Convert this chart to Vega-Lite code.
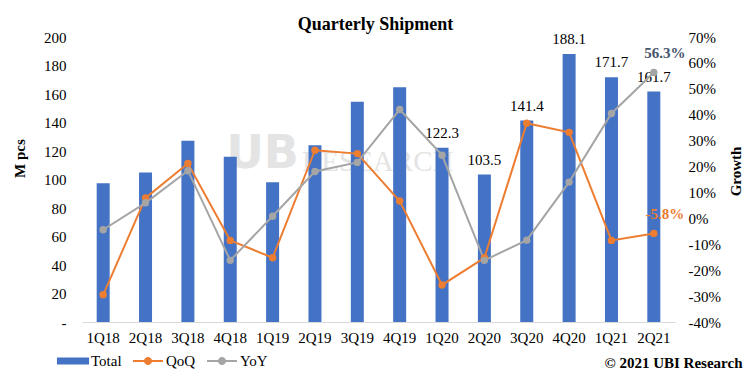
{
  "$schema": "https://vega.github.io/schema/vega-lite/v6.json",
  "width": 593,
  "height": 285,
  "autosize": "none",
  "padding": {"left": 82, "top": 37, "right": 77, "bottom": 58},
  "background": "white",
  "config": {
    "view": {"stroke": null},
    "font": "Liberation Serif",
    "text": {"font": "Liberation Serif"},
    "axis": {"labelFont": "Liberation Serif", "titleFont": "Liberation Serif", "labelColor": "black", "titleColor": "black", "grid": false, "ticks": false}
  },
  "title": {"text": "Quarterly Shipment", "font": "Liberation Serif", "fontSize": 18, "fontWeight": "bold", "color": "black", "anchor": "middle", "frame": "group", "offset": -4, "dx": -3},
  "data": {"values": [
    {"q": "1Q18", "series": "Total", "value": 97.3},
    {"q": "2Q18", "series": "Total", "value": 105.0},
    {"q": "3Q18", "series": "Total", "value": 127.2},
    {"q": "4Q18", "series": "Total", "value": 116.0},
    {"q": "1Q19", "series": "Total", "value": 98.0},
    {"q": "2Q19", "series": "Total", "value": 124.0},
    {"q": "3Q19", "series": "Total", "value": 154.6},
    {"q": "4Q19", "series": "Total", "value": 164.7},
    {"q": "1Q20", "series": "Total", "value": 122.3, "lbl": "122.3"},
    {"q": "2Q20", "series": "Total", "value": 103.5, "lbl": "103.5"},
    {"q": "3Q20", "series": "Total", "value": 141.4, "lbl": "141.4"},
    {"q": "4Q20", "series": "Total", "value": 188.1, "lbl": "188.1"},
    {"q": "1Q21", "series": "Total", "value": 171.7, "lbl": "171.7"},
    {"q": "2Q21", "series": "Total", "value": 161.7, "lbl": "161.7"},
    {"q": "1Q18", "series": "QoQ", "value": -29.5},
    {"q": "2Q18", "series": "QoQ", "value": 7.9},
    {"q": "3Q18", "series": "QoQ", "value": 21.2},
    {"q": "4Q18", "series": "QoQ", "value": -8.5},
    {"q": "1Q19", "series": "QoQ", "value": -15.2},
    {"q": "2Q19", "series": "QoQ", "value": 26.3},
    {"q": "3Q19", "series": "QoQ", "value": 25.0},
    {"q": "4Q19", "series": "QoQ", "value": 6.7},
    {"q": "1Q20", "series": "QoQ", "value": -25.7},
    {"q": "2Q20", "series": "QoQ", "value": -15.2},
    {"q": "3Q20", "series": "QoQ", "value": 36.7},
    {"q": "4Q20", "series": "QoQ", "value": 33.2},
    {"q": "1Q21", "series": "QoQ", "value": -8.5},
    {"q": "2Q21", "series": "QoQ", "value": -5.8, "note": "-5.8%"},
    {"q": "1Q18", "series": "YoY", "value": -4.4},
    {"q": "2Q18", "series": "YoY", "value": 6.0},
    {"q": "3Q18", "series": "YoY", "value": 18.4},
    {"q": "4Q18", "series": "YoY", "value": -16.2},
    {"q": "1Q19", "series": "YoY", "value": 0.8},
    {"q": "2Q19", "series": "YoY", "value": 18.1},
    {"q": "3Q19", "series": "YoY", "value": 21.6},
    {"q": "4Q19", "series": "YoY", "value": 42.0},
    {"q": "1Q20", "series": "YoY", "value": 24.4},
    {"q": "2Q20", "series": "YoY", "value": -16.2},
    {"q": "3Q20", "series": "YoY", "value": -8.4},
    {"q": "4Q20", "series": "YoY", "value": 14.0},
    {"q": "1Q21", "series": "YoY", "value": 40.5},
    {"q": "2Q21", "series": "YoY", "value": 56.3, "note": "56.3%"}
  ]},
  "encoding": {
    "x": {
      "field": "q", "type": "nominal", "sort": null,
      "scale": {"domain": ["1Q18", "2Q18", "3Q18", "4Q18", "1Q19", "2Q19", "3Q19", "4Q19", "1Q20", "2Q20", "3Q20", "4Q20", "1Q21", "2Q21"], "paddingInner": 0, "paddingOuter": 0},
      "axis": {
        "labelAngle": 0, "labelFontSize": 15, "labelPadding": 8,
        "domainColor": "#D9D9D9", "domainWidth": 1,
        "title": "© 2021 UBI Research", "titleFontSize": 15, "titleFontWeight": "bold",
        "titleX": 660, "titleY": 45, "titleAlign": "right", "titleBaseline": "alphabetic", "titleAnchor": null
      }
    }
  },
  "layer": [
    {
      "transform": [{"filter": "datum.series === 'Total'"}],
      "encoding": {
        "y": {
          "field": "value", "type": "quantitative",
          "scale": {"domain": [0, 200], "nice": false, "zero": true},
          "axis": {
            "values": [0, 20, 40, 60, 80, 100, 120, 140, 160, 180, 200],
            "labelExpr": "datum.value === 0 ? '-' : datum.label",
            "labelFontSize": 15, "labelPadding": 16, "domain": false,
            "title": "M pcs", "titleFontSize": 15, "titleFontWeight": "bold",
            "titleAngle": -90, "titleX": -63, "titleY": 121, "titleAlign": "center", "titleBaseline": "middle"
          }
        }
      },
      "layer": [
        {
          "transform": [{"filter": "datum.q === '1Q18'"}],
          "mark": {"type": "text", "text": "UB", "font": "DejaVu Sans", "fontSize": 46, "fontWeight": "bold", "color": "#E4E4E4", "baseline": "alphabetic", "align": "center", "dx": -10},
          "encoding": {"x": {"datum": "1Q19"}, "y": {"datum": 108}}
        },
        {
          "transform": [{"filter": "datum.q === '1Q18'"}],
          "mark": {"type": "text", "text": "RESEARCH", "fontSize": 29, "color": "#E4E4E4", "baseline": "alphabetic", "align": "center", "dx": -22},
          "encoding": {"x": {"datum": "4Q19"}, "y": {"datum": 106}}
        },
        {
          "mark": {"type": "bar", "width": 13},
          "encoding": {
            "color": {
              "field": "series", "type": "nominal",
              "scale": {"domain": ["Total", "QoQ", "YoY"], "range": ["#4472C4", "#ED7D31", "#A5A5A5"]},
              "legend": {
                "title": null, "orient": "none", "direction": "horizontal",
                "legendX": -24, "legendY": 309, "padding": 0,
                "labelFont": "Liberation Serif", "labelFontSize": 15, "labelColor": "black",
                "labelOffset": 3, "columnPadding": 11, "symbolSize": 900,
                "encode": {
                  "symbols": {
                    "update": {
                      "shape": {"signal": "datum.value === 'Total' ? 'M -1.07,-0.23 L 1.07,-0.23 L 1.07,0.23 L -1.07,0.23 Z' : 'M -1,-0.07 L 1,-0.07 L 1,0.07 L -1,0.07 Z M -0.27,0 A 0.27,0.27 0 1,1 0.27,0 A 0.27,0.27 0 1,1 -0.27,0 Z'"},
                      "fill": {"signal": "datum.value === 'Total' ? '#4472C4' : datum.value === 'QoQ' ? '#ED7D31' : '#A5A5A5'"},
                      "stroke": {"value": "transparent"},
                      "strokeWidth": {"value": 0},
                      "opacity": {"value": 1},
                      "size": {"value": 900}
                    }
                  }
                }
              }
            }
          }
        },
        {
          "transform": [{"filter": "datum.lbl"}],
          "mark": {"type": "text", "fontSize": 15, "baseline": "alphabetic", "dy": -10, "color": "black"},
          "encoding": {"text": {"field": "lbl"}}
        }
      ]
    },
    {
      "transform": [{"filter": "datum.series !== 'Total'"}],
      "encoding": {
        "y": {
          "field": "value", "type": "quantitative",
          "scale": {"domain": [-40, 70], "nice": false, "zero": false},
          "axis": {
            "orient": "right",
            "values": [-40, -30, -20, -10, 0, 10, 20, 30, 40, 50, 60, 70],
            "labelExpr": "datum.value + '%'",
            "labelFontSize": 15, "labelPadding": 13, "domain": false,
            "title": "Growth", "titleFontSize": 15, "titleFontWeight": "bold",
            "titleAngle": -90, "titleX": 60, "titleY": 134, "titleAlign": "center", "titleBaseline": "middle"
          }
        }
      },
      "layer": [
        {
          "mark": {"type": "line", "strokeWidth": 2},
          "encoding": {"color": {"field": "series", "type": "nominal"}}
        },
        {
          "mark": {"type": "point", "filled": true, "size": 55, "opacity": 1},
          "encoding": {"color": {"field": "series", "type": "nominal"}}
        },
        {
          "transform": [{"filter": "datum.note"}],
          "mark": {"type": "text", "fontSize": 15, "fontWeight": "bold", "baseline": "alphabetic", "dx": 11, "dy": -14},
          "encoding": {
            "text": {"field": "note"},
            "fill": {"condition": {"test": "datum.series === 'QoQ'", "value": "#ED7D31"}, "value": "#44546A"}
          }
        }
      ]
    }
  ],
  "resolve": {"scale": {"y": "independent"}}
}
